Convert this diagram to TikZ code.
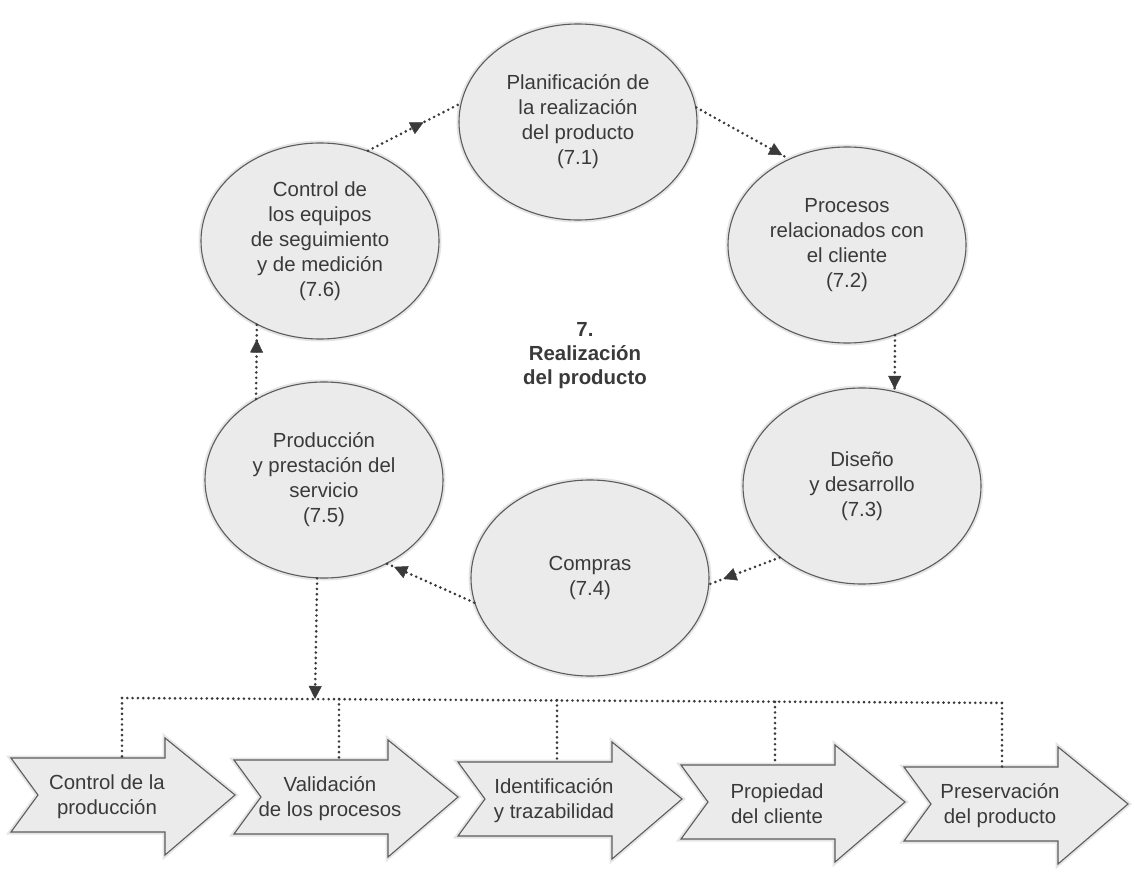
\documentclass[tikz,border=0pt]{standalone}
\usepackage{fontspec}
\setmainfont{Liberation Sans}
\usetikzlibrary{arrows.meta,decorations.markings,shapes.geometric}

\definecolor{ink}{HTML}{3A3A3A}
\definecolor{rim}{HTML}{5C5C5C}
\definecolor{paper}{HTML}{EBEBEB}
\definecolor{dotc}{HTML}{3A3A3A}

\tikzset{
  txt/.style={font=\fontsize{20.4pt}{25pt}\selectfont, text=ink, align=center},
  headline/.style={font=\fontsize{20.4pt}{24pt}\selectfont\bfseries, text=ink, align=center},
  halo/.style={preaction={draw=black, draw opacity=0.10, line width=5pt}},
  stage/.style={ellipse, draw=rim, line width=1.1pt, fill=paper, halo,
    minimum width=238pt, minimum height=196pt, inner sep=0pt, txt},
  dotline/.style={draw=dotc, line width=2.9pt, line cap=round, dash pattern=on 0pt off 5.3pt},
  conn/.style={dotline, postaction={decorate, decoration={markings,
    mark=at position #1 with {\arrow[solid,line width=0.5pt]{Triangle[length=13pt,width=13pt]}}}}},
  arrowbox/.style={draw=rim, line width=1.1pt, fill=paper, line join=miter, halo},
}

\begin{document}
\begin{tikzpicture}[x=1pt,y=-1pt]
\useasboundingbox (0,0) rectangle (1135,872);
\fill[white] (0,0) rectangle (1135,872);

% the six stages of clause 7
\node[stage] (e71) at (578,122) {Planificación de\\la realización\\del producto\\(7.1)};
\node[stage] (e72) at (847,245) {Procesos\\relacionados con\\el cliente\\(7.2)};
\node[stage] (e73) at (862,486) {Diseño\\y desarrollo\\(7.3)};
\node[stage] (e74) at (590,578) {Compras\\(7.4)};
\node[stage] (e75) at (324,480) {Producción\\y prestación del\\servicio\\(7.5)};
\node[stage] (e76) at (320,241) {Control de\\los equipos\\de seguimiento\\y de medición\\(7.6)};

\node[headline] (title) at (585,356) {7.\\Realización\\del producto};

% cycle between the stages
\draw[conn=0.6]  (e76.62)  -- (e71.171);
\draw[conn=0.93] (e71.7)   -- (e72.124);
\draw[conn=0.96] (e72.-62) -- (e73.71);
\draw[conn=0.8]  (e73.221) -- (e74.-3);
\draw[conn=0.92] (e74.192) -- (e75.-53);
\draw[conn=0.8]  (e75.130) -- (e76.233);

% production sub-processes
\coordinate (bus) at (315,699);
\draw[conn=1] (e75.266) -- (bus);

\foreach \i/\T/\D/\s/\lbl in {
  1/235/122/0/{Control de la\\producción},
  2/458/339/2/{Validación\\de los procesos},
  3/682/557/4/{Identificación\\y trazabilidad},
  4/905/775/7/{Propiedad\\del cliente},
  5/1128/1002/9/{Preservación\\del producto}}{
  \filldraw[arrowbox] (\T-224,758+\s) -- (\T-70,758+\s) -- (\T-70,738+\s)
    -- (\T,795+\s) -- (\T-70,855+\s) -- (\T-70,832+\s) -- (\T-224,832+\s)
    -- (\T-197,795+\s) -- cycle;
  \node[txt] (p\i) at (\T-128,797+\s) {\lbl};
  \coordinate (d\i) at (\D,758+\s);
  \coordinate (b\i) at (\D,698+0.55*\s);
  \draw[dotline] (b\i) -- (d\i);
}
\draw[dotline] (b1) -- (b5);
\end{tikzpicture}
\end{document}
